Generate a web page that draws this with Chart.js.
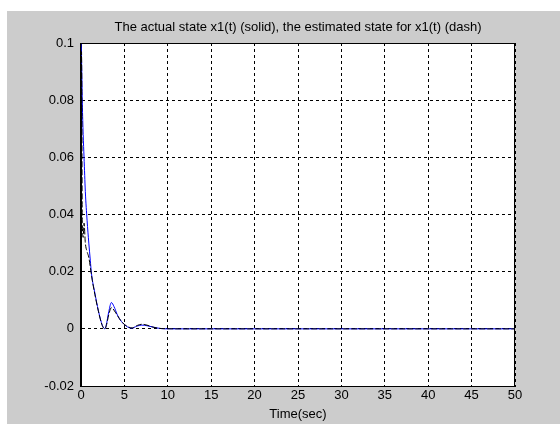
<!DOCTYPE html>
<html lang="en">
<head>
<meta charset="UTF-8">
<title>Actual vs estimated state x1(t)</title>
<script src="https://cdn.jsdelivr.net/npm/chart.js"></script>
<style>
  html, body { margin: 0; padding: 0; background: #fff; }
  #wrap { width: 560px; height: 424px; }
</style>
</head>
<body>
<div id="wrap"><canvas id="c" width="560" height="424"></canvas></div>
<script>
// actual state x1(t) - solid blue
var actualTime = [0, 0.05, 0.15, 0.25, 0.35, 0.5, 0.7, 0.9, 1.07, 1.2, 1.6, 2.0, 2.35, 2.6, 2.75, 2.9, 3.2, 3.5, 3.8, 4.2, 4.65, 5.2, 5.85, 6.4, 7.0, 7.6, 8.3, 9.2, 10, 20, 30, 40, 50];
var actualX1   = [0.1, 0.096, 0.079, 0.068, 0.06, 0.048, 0.038, 0.030, 0.024, 0.0195, 0.0125, 0.0064, 0.0022, 0.0004, 0.0, 0.0012, 0.006, 0.0092, 0.0078, 0.0048, 0.0026, 0.001, 0.0002, 0.0009, 0.0013, 0.0011, 0.0006, 0.0001, 0, 0, 0, 0, 0];

// estimated state for x1(t) - dashed black
var estTime = [0, 0.06, 0.15, 0.25, 0.35, 0.5, 0.7, 0.9, 1.1, 1.3, 1.6, 2.0, 2.4, 2.6, 2.75, 2.95, 3.2, 3.5, 4.0, 4.6, 5.2, 5.9, 6.5, 7.0, 7.6, 8.3, 9.3, 12, 18, 30, 40, 50];
var estX1   = [0.015, 0.097, 0.037, 0.032, 0.037, 0.030, 0.027, 0.025, 0.021, 0.017, 0.012, 0.0062, 0.0015, 0.0003, 0.0, 0.0015, 0.005, 0.0074, 0.0056, 0.0028, 0.0011, 0.0003, 0.0012, 0.0016, 0.0013, 0.0006, 0.0001, 0, 0, 0, 0, 0];

var xTicks = [0, 5, 10, 15, 20, 25, 30, 35, 40, 45, 50];
var yTicks = [-0.02, 0, 0.02, 0.04, 0.06, 0.08, 0.1];
var yTickLabels = ['-0.02', '0', '0.02', '0.04', '0.06', '0.08', '0.1'];

function pts(xs, ys) {
  return xs.map(function (x, i) { return { x: x, y: ys[i] }; });
}

var FONT = 'Arial, "Liberation Sans", sans-serif';

// grey figure window, white axes, black box round the axes
var figureBg = {
  id: 'figureBg',
  beforeDraw: function (chart) {
    var ctx = chart.ctx, a = chart.chartArea;
    ctx.save();
    ctx.fillStyle = '#ffffff';
    ctx.fillRect(0, 0, chart.width, chart.height);
    ctx.fillStyle = '#cccccc';
    ctx.fillRect(7, 11, chart.width - 7, chart.height - 11);
    ctx.fillStyle = '#ffffff';
    ctx.fillRect(a.left, a.top, a.right - a.left, a.bottom - a.top);
    ctx.restore();
  },
  afterDraw: function (chart) {
    var ctx = chart.ctx, a = chart.chartArea;
    ctx.save();
    ctx.strokeStyle = '#000';
    ctx.lineWidth = 1;
    ctx.strokeRect(Math.round(a.left) - 0.5, Math.round(a.top) + 0.5,
                   Math.round(a.right - a.left), Math.round(a.bottom - a.top));
    ctx.restore();
  }
};

new Chart(document.getElementById('c'), {
  type: 'scatter',
  data: {
    datasets: [
      {
        label: 'estimated x1(t)',
        data: pts(estTime, estX1),
        showLine: true,
        borderColor: '#000000',
        borderWidth: 1,
        borderDash: [6, 2],
        pointRadius: 0,
        cubicInterpolationMode: 'monotone'
      },
      {
        label: 'actual x1(t)',
        data: pts(actualTime, actualX1),
        showLine: true,
        borderColor: '#0000ff',
        borderWidth: 1,
        pointRadius: 0,
        cubicInterpolationMode: 'monotone'
      }
    ]
  },
  options: {
    responsive: false,
    animation: false,
    devicePixelRatio: 1,
    layout: { padding: { left: 0, right: 45, top: 0, bottom: 0 } },
    plugins: {
      legend: { display: false },
      tooltip: { enabled: false },
      title: {
        display: true,
        fullSize: false,
        text: 'The actual state x1(t) (solid), the estimated state for x1(t) (dash)',
        color: '#000',
        font: { family: FONT, size: 13, weight: 'normal' },
        padding: { top: 20, bottom: 7.4 }
      }
    },
    scales: {
      x: {
        type: 'linear',
        min: 0,
        max: 50,
        afterBuildTicks: function (s) { s.ticks = xTicks.map(function (v) { return { value: v }; }); },
        afterFit: function (s) { s.height = 38; },
        grid: { color: '#000', lineWidth: 1, drawTicks: false },
        border: { display: true, color: '#000', dash: [3, 3] },
        ticks: {
          color: '#000',
          padding: 2,
          maxRotation: 0,
          font: { family: FONT, size: 13 }
        },
        title: {
          display: true,
          text: 'Time(sec)',
          color: '#000',
          font: { family: FONT, size: 13 },
          padding: { top: 0, bottom: 2 }
        }
      },
      y: {
        type: 'linear',
        min: -0.02,
        max: 0.1,
        afterBuildTicks: function (s) { s.ticks = yTicks.map(function (v) { return { value: v }; }); },
        afterFit: function (s) { s.width = 81; },
        grid: { color: '#000', lineWidth: 1, drawTicks: false },
        border: { display: true, color: '#000', dash: [3, 3] },
        ticks: {
          color: '#000',
          padding: 7,
          font: { family: FONT, size: 13 },
          callback: function (v) {
            var i = yTicks.indexOf(v);
            return i >= 0 ? yTickLabels[i] : '';
          }
        }
      }
    }
  },
  plugins: [figureBg]
});
</script>
</body>
</html>
